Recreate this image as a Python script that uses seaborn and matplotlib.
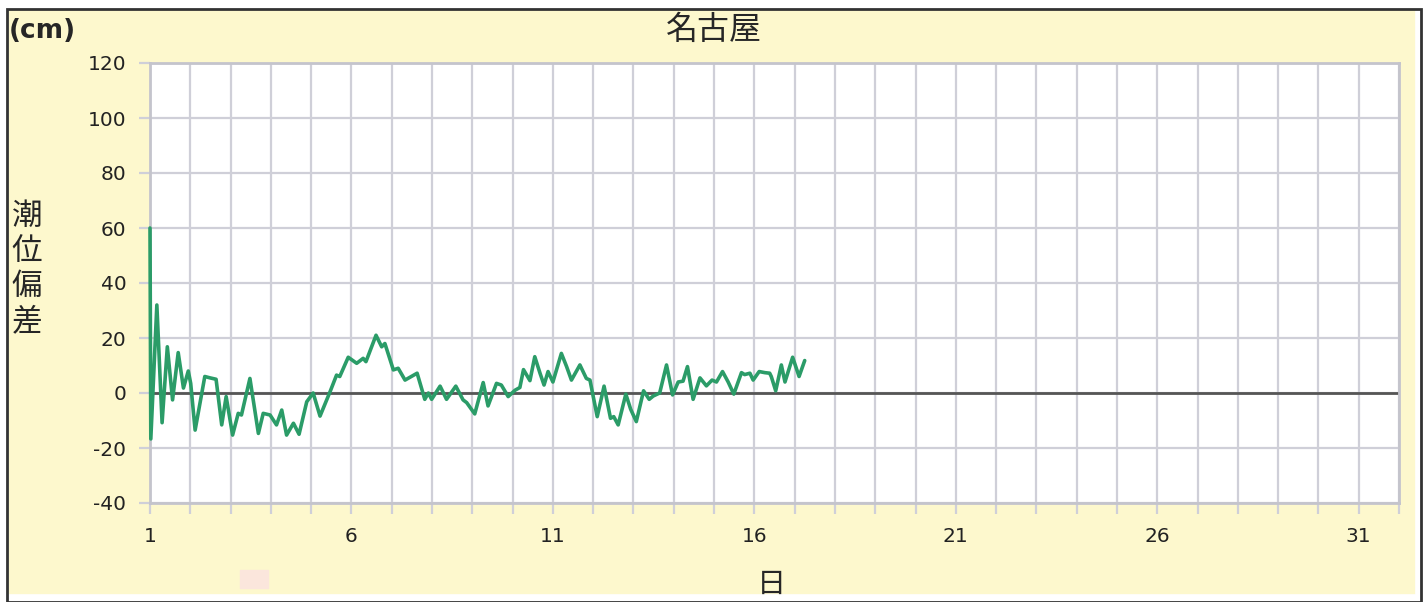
import matplotlib
matplotlib.use("Agg")
import matplotlib.pyplot as plt
import seaborn as sns
import pandas as pd
from matplotlib.patches import Rectangle

# data (day of month, tide deviation in cm)
days = [1.00, 1.02, 1.17, 1.30, 1.43, 1.56, 1.70, 1.83, 1.95, 2.01, 2.12, 2.36, 2.49, 2.64,
        2.78, 2.89, 3.05, 3.19, 3.27, 3.48, 3.69, 3.81, 3.98, 4.14, 4.27, 4.39, 4.56, 4.70,
        4.89, 5.05, 5.22, 5.47, 5.63, 5.71, 5.92, 6.13, 6.29, 6.36, 6.61, 6.75, 6.83, 7.04,
        7.16, 7.33, 7.45, 7.63, 7.82, 7.91, 7.99, 8.20, 8.36, 8.59, 8.77, 8.86, 9.06, 9.27,
        9.39, 9.60, 9.72, 9.89, 10.06, 10.18, 10.27, 10.43, 10.55, 10.68, 10.78, 10.88,
        11.00, 11.21, 11.34, 11.46, 11.67, 11.83, 11.92, 12.10, 12.27, 12.43, 12.51, 12.62,
        12.81, 12.93, 13.07, 13.25, 13.39, 13.49, 13.65, 13.82, 13.97, 14.11, 14.23, 14.34,
        14.48, 14.65, 14.81, 14.95, 15.06, 15.21, 15.35, 15.49, 15.68, 15.76, 15.89, 15.97,
        16.12, 16.26, 16.38, 16.42, 16.53, 16.67, 16.76, 16.95, 17.11, 17.25]
deviation = [60, -16.7, 32, -10.8, 16.8, -2.5, 14.7, 1.8, 8, 3.5, -13.5, 6, 5.5, 5,
             -11.6, -1.3, -15.3, -7.4, -8, 5.3, -14.7, -7.4, -8, -11.6, -6.2, -15.3, -11, -15,
             -3.2, 0, -8.4, 0.5, 6.5, 6, 13, 10.8, 12.6, 11.4, 21, 16.8, 18, 8.4,
             9, 4.7, 5.7, 7.2, -2.3, 0, -2.3, 2.5, -2.3, 2.5, -2.5, -3.5, -7.6, 3.8,
             -4.7, 3.5, 2.9, -1.3, 1, 2, 8.5, 4.5, 13.2, 7.2, 2.9, 7.8,
             4, 14.4, 9.6, 4.7, 10.2, 5.3, 4.7, -8.6, 2.5, -9.2, -8.6, -11.6,
             -0.4, -5.9, -10.4, 0.8, -2.3, -1.1, 0, 10.2, -0.7, 4, 4.3, 9.6,
             -2.3, 5.5, 2.6, 4.7, 4, 7.8, 4, -0.4, 7.4, 6.7, 7.2, 4.7,
             7.8, 7.4, 7.2, 6, 0.8, 10.2, 4, 13, 6, 11.8]

x_labels = [1, 6, 11, 16, 21, 26, 31]
y_ticks = [-40, -20, 0, 20, 40, 60, 80, 100, 120]

df = pd.DataFrame({"day": days, "dev": deviation})

sns.set_style("white")
plt.rcParams['font.family'] = ['Noto Sans CJK JP', 'DejaVu Sans']

bg = "#fdf8cd"
fig = plt.figure(figsize=(14.23, 6.02), dpi=100, facecolor=bg)
ax = fig.add_axes([150 / 1423, 99 / 602, 1249 / 1423, 440 / 602])
ax.set_facecolor("white")

grid_c = "#cfcfd8"
for d in range(1, 33):
    ax.axvline(d, color=grid_c, lw=1.6, zorder=0)
for v in y_ticks:
    ax.axhline(v, color=grid_c, lw=1.6, zorder=0)
ax.axhline(0, color="#555555", lw=2, zorder=1)

sns.lineplot(data=df, x="day", y="dev", ax=ax, color="#2b9c68", lw=2.6,
             estimator=None, sort=False, zorder=4, clip_on=False,
             solid_joinstyle="round", solid_capstyle="round")

ax.set_xlim(1, 32)
ax.set_ylim(-40, 120)
ax.set_xticks(range(1, 33))
ax.set_xticklabels([str(d) if d in x_labels else "" for d in range(1, 33)],
                   family="DejaVu Sans", fontsize=14.5)
ax.set_yticks(y_ticks)
ax.set_yticklabels([str(v) for v in y_ticks], family="DejaVu Sans", fontsize=14.5)
ax.tick_params(axis="both", direction="out", length=8, width=1.6, color=grid_c,
               pad=9, labelcolor="#222222", bottom=True, left=True)
for s in ax.spines.values():
    s.set_color("#c4c4cc")
    s.set_linewidth(2)
    s.set_zorder(3)
ax.set_xlabel("")
ax.set_ylabel("")

fig.text(714 / 1423, 1 - 30 / 602, "名古屋", ha="center", va="center", fontsize=23)
fig.text(9 / 1423, 1 - 31 / 602, "(cm)", ha="left", va="center", fontsize=19,
         fontweight="bold", family="DejaVu Sans")
fig.text(27 / 1423, 1 - 269 / 602, "潮\n位\n偏\n差", ha="center", va="center",
         fontsize=22, linespacing=1.18)
fig.text(771 / 1423, 1 - 585 / 602, "日", ha="center", va="center", fontsize=21)

# small pink mark below the axis and the outer frame
fig.patches.append(Rectangle((240 / 1423, 1 - 588 / 602), 28 / 1423, 18 / 602,
                             transform=fig.transFigure, color="#fbe6dc", zorder=0))
fig.patches.append(Rectangle((0, 0), 1, 1, transform=fig.transFigure,
                             fill=False, ec="white", lw=12, zorder=5))
fig.patches.append(Rectangle((7 / 1423, 0), 1414 / 1423, 1 - 9 / 602,
                             transform=fig.transFigure, fill=False, ec="#333333",
                             lw=2, zorder=6))

fig.savefig("out.png", dpi=100, facecolor=bg)
